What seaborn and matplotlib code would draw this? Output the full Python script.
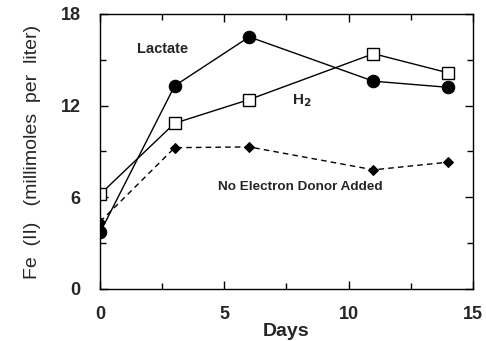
import matplotlib
matplotlib.use("Agg")
import matplotlib.pyplot as plt
import seaborn as sns
import pandas as pd
from matplotlib.ticker import MultipleLocator

sns.set_style("ticks")
plt.rcParams['font.family'] = ['Liberation Sans', 'DejaVu Sans']

days = [0, 3, 6, 11, 14]
lactate = [3.7, 13.3, 16.5, 13.6, 13.2]
h2 = [6.2, 10.85, 12.4, 15.4, 14.15]
no_donor = [4.4, 9.25, 9.3, 7.8, 8.3]

fig = plt.figure(figsize=(4.86, 3.41), dpi=100)
ax = fig.add_axes([0.206, 0.1525, 0.767, 0.8065])

sns.lineplot(x=days, y=lactate, ax=ax, color='black', lw=1.0, marker='o',
             markersize=9, markerfacecolor='black', markeredgecolor='black')
sns.lineplot(x=days, y=h2, ax=ax, color='black', lw=1.0, marker='s',
             markersize=8, markerfacecolor='white', markeredgecolor='black', markeredgewidth=1.0)
sns.lineplot(x=days, y=no_donor, ax=ax, color='black', lw=1.0, marker='D',
             markersize=5.5, markerfacecolor='black', markeredgecolor='black', linestyle=(0, (4, 3)))

ax.set_xlim(0, 15)
ax.set_ylim(0, 18)
ax.xaxis.set_major_locator(MultipleLocator(5))
ax.xaxis.set_minor_locator(MultipleLocator(2.5))
ax.yaxis.set_major_locator(MultipleLocator(6))
ax.yaxis.set_minor_locator(MultipleLocator(3))
ax.tick_params(which='both', direction='in', top=True, right=True, width=1.0, color='black')
ax.tick_params(which='major', length=6, labelsize=13)
ax.tick_params(axis='y', which='major', pad=14)
ax.tick_params(axis='x', which='major', pad=12)
ax.tick_params(which='minor', length=4)
for lab in ax.get_xticklabels() + ax.get_yticklabels():
    lab.set_fontweight('bold')
for s in ax.spines.values():
    s.set_linewidth(1.0)
    s.set_color('black')

ax.set_xlabel('Days', fontsize=14, fontweight='bold', labelpad=0)
ax.set_ylabel('Fe  (II)   (millimoles  per  liter)', fontsize=14, labelpad=14)

ax.text(2.5, 15.7, 'Lactate', fontsize=10.5, fontweight='bold', ha='center', va='center')
ax.text(8.1, 12.3, r'H$_\mathbf{2}$', fontsize=11, fontweight='bold', ha='center', va='center')
ax.text(8.05, 6.7, 'No Electron Donor Added', fontsize=9.7, fontweight='bold', ha='center', va='center')

fig.savefig('out.png', dpi=100)
